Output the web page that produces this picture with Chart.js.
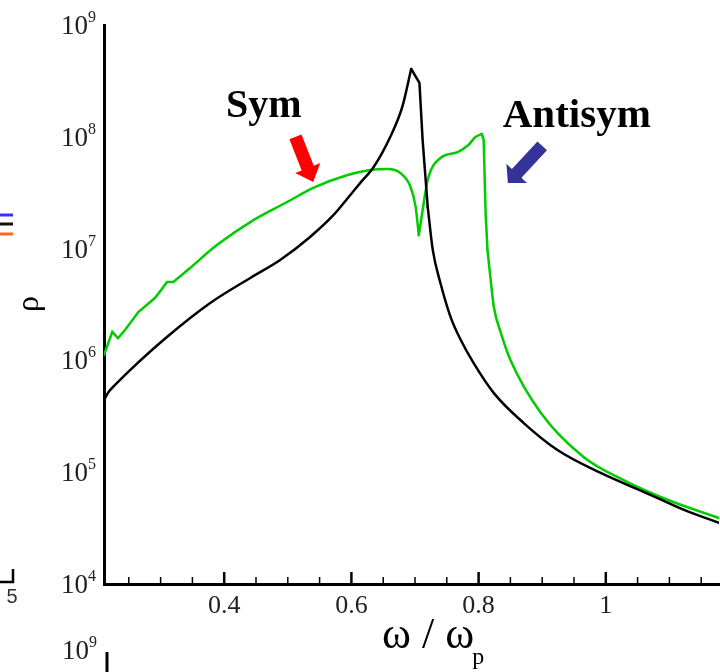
<!DOCTYPE html>
<html>
<head>
<meta charset="utf-8">
<script src="https://cdn.jsdelivr.net/npm/chart.js@4/dist/chart.umd.min.js"></script>
<style>
  html, body { margin: 0; padding: 0; background: #fff; }
</style>
</head>
<body>
<canvas id="rhoChart" width="720" height="672"></canvas>
<script>
// black curve
const omegaBlack = [0.211, 0.218, 0.228, 0.252, 0.31, 0.378, 0.441, 0.488, 0.535, 0.572,
  0.598, 0.614, 0.635, 0.661, 0.68, 0.694, 0.707, 0.712, 0.72, 0.728,
  0.74, 0.756, 0.772, 0.792, 0.824, 0.871, 0.924, 0.992, 1.071, 1.123, 1.178];
const rhoBlack = [4.4e5, 5.2e5, 6.0e5, 8.2e5, 1.62e6, 3.26e6, 5.46e6, 7.9e6, 1.27e7, 2.0e7,
  3.0e7, 3.87e7, 5.37e7, 9.96e7, 1.85e8, 4.04e8, 3.03e8, 9.35e7, 2.36e7, 9.7e6,
  4.92e6, 2.44e6, 1.52e6, 9.5e5, 5.1e5, 2.75e5, 1.58e5, 9.85e4, 6.25e4, 4.6e4, 3.52e4];

// green curve
const omegaGreen = [0.211, 0.224, 0.233, 0.244, 0.265, 0.291, 0.302, 0.31, 0.32, 0.345,
  0.389, 0.446, 0.499, 0.54, 0.594, 0.63, 0.657, 0.677, 0.693, 0.701,
  0.706, 0.712, 0.72, 0.74, 0.767, 0.784, 0.795, 0.805, 0.808, 0.811,
  0.814, 0.819, 0.824, 0.835, 0.85, 0.898, 0.965, 1.028, 1.098, 1.178];
const rhoGreen = [1.12e6, 1.80e6, 1.58e6, 1.87e6, 2.71e6, 3.61e6, 4.35e6, 5.03e6, 5.03e6, 6.6e6,
  1.08e7, 1.80e7, 2.61e7, 3.49e7, 4.55e7, 5.05e7, 5.15e7, 4.74e7, 3.56e7, 2.36e7,
  1.32e7, 2.21e7, 4.11e7, 6.46e7, 7.31e7, 8.45e7, 9.96e7, 1.06e8, 9.35e7, 2.08e7,
  9.7e6, 5.24e6, 3.0e6, 1.76e6, 1.01e6, 3.39e5, 1.37e5, 8.5e4, 5.64e4, 3.89e4];

// axes
const xMajorTicks = [0.4, 0.6, 0.8, 1];
const xTickLabels = ["0.4", "0.6", "0.8", "1"];
const xMinorTicks = [0.25, 0.3, 0.35, 0.45, 0.5, 0.55, 0.65, 0.7, 0.75, 0.85, 0.9, 0.95, 1.05, 1.1, 1.15];
const yTickExponents = [4, 5, 6, 7, 8, 9];

// which stretches (by point index) are smooth and which keep their sharp corners
const blackPieces = [[0, 15, true], [15, 18, false], [18, 30, true]];
const greenPieces = [[0, 9, false], [9, 20, true], [20, 27, true], [27, 30, false], [30, 39, true]];

const SERIF = "'Liberation Serif', 'Times New Roman', serif";

function toPoints(xs, ys) {
  return xs.map((x, i) => ({ x: x, y: ys[i] }));
}

function pieceDatasets(name, xs, ys, pieces, color) {
  return pieces.map(([a, b, smooth]) => ({
    label: name,
    data: toPoints(xs.slice(a, b + 1), ys.slice(a, b + 1)),
    borderColor: color,
    borderWidth: 2.5,
    borderCapStyle: "round",
    pointRadius: 0,
    tension: 0,
    cubicInterpolationMode: smooth ? "monotone" : "default"
  }));
}

function drawArrow(ctx, x0, y0, x1, y1, shaftW, headW, headL, color) {
  const dx = x1 - x0, dy = y1 - y0;
  const len = Math.hypot(dx, dy);
  const ux = dx / len, uy = dy / len;
  const nx = -uy, ny = ux;
  const bx = x1 - ux * headL, by = y1 - uy * headL;
  ctx.save();
  ctx.fillStyle = color;
  ctx.beginPath();
  ctx.moveTo(x0 + nx * shaftW / 2, y0 + ny * shaftW / 2);
  ctx.lineTo(bx + nx * shaftW / 2, by + ny * shaftW / 2);
  ctx.lineTo(bx + nx * headW / 2, by + ny * headW / 2);
  ctx.lineTo(x1, y1);
  ctx.lineTo(bx - nx * headW / 2, by - ny * headW / 2);
  ctx.lineTo(bx - nx * shaftW / 2, by - ny * shaftW / 2);
  ctx.lineTo(x0 - nx * shaftW / 2, y0 - ny * shaftW / 2);
  ctx.closePath();
  ctx.fill();
  ctx.restore();
}

const decorations = {
  id: "decorations",
  afterDraw(chart) {
    const ctx = chart.ctx;
    const xs = chart.scales.x, ys = chart.scales.y;
    const area = chart.chartArea;
    const px = v => xs.getPixelForValue(v);
    const py = v => ys.getPixelForValue(v);

    ctx.save();
    // inward ticks on the omega axis
    ctx.strokeStyle = "#000";
    ctx.lineWidth = 1.5;
    xMinorTicks.forEach(v => {
      ctx.beginPath();
      ctx.moveTo(px(v), area.bottom);
      ctx.lineTo(px(v), area.bottom - 7);
      ctx.stroke();
    });
    ctx.lineWidth = 2.5;
    xMajorTicks.forEach(v => {
      ctx.beginPath();
      ctx.moveTo(px(v), area.bottom);
      ctx.lineTo(px(v), area.bottom - 12);
      ctx.stroke();
    });

    // tick labels
    ctx.fillStyle = "#222";
    ctx.font = "26px " + SERIF;
    ctx.textAlign = "center";
    ctx.textBaseline = "alphabetic";
    xMajorTicks.forEach((v, i) => ctx.fillText(xTickLabels[i], px(v), area.bottom + 29));

    yTickExponents.forEach(e => {
      const y = py(Math.pow(10, e));
      ctx.font = "27px " + SERIF;
      ctx.textAlign = "right";
      ctx.fillText("10", 88, y + 9);
      ctx.font = "16px " + SERIF;
      ctx.textAlign = "left";
      ctx.fillText(String(e), 88, y - 3);
    });

    // axis titles
    ctx.fillStyle = "#000";
    ctx.font = "44px " + SERIF;
    ctx.textAlign = "left";
    ctx.fillText("\u03c9 / \u03c9", 382, 648);
    const w = ctx.measureText("\u03c9 / \u03c9").width;
    ctx.font = "24px " + SERIF;
    ctx.fillText("p", 380 + w, 664);

    ctx.save();
    ctx.font = "32px " + SERIF;
    ctx.translate(38, 304);
    ctx.rotate(-Math.PI / 2);
    ctx.textAlign = "center";
    ctx.fillText("\u03c1", 0, 0);
    ctx.restore();

    // annotations
    ctx.font = "bold 40px " + SERIF;
    ctx.textAlign = "left";
    ctx.fillText("Sym", px(0.403), py(1.5e8));
    ctx.font = "bold 41px " + SERIF;
    ctx.fillText("Antisym", px(0.838), py(1.22e8));

    drawArrow(ctx, px(0.512), py(1.0e8), px(0.54), py(3.94e7), 13, 27, 15, "#ff0000");
    drawArrow(ctx, px(0.9), py(8.3e7), px(0.846), py(3.87e7), 13, 28, 13, "#333399");

    // edges of the neighbouring panels
    ctx.lineWidth = 3;
    ctx.strokeStyle = "#3333ff";
    ctx.beginPath(); ctx.moveTo(0, 215); ctx.lineTo(13, 215); ctx.stroke();
    ctx.strokeStyle = "#111";
    ctx.beginPath(); ctx.moveTo(0, 224); ctx.lineTo(13, 224); ctx.stroke();
    ctx.strokeStyle = "#ff6622";
    ctx.beginPath(); ctx.moveTo(0, 234); ctx.lineTo(13, 234); ctx.stroke();

    ctx.lineWidth = 2.5;
    ctx.strokeStyle = "#000";
    ctx.beginPath(); ctx.moveTo(13, 569); ctx.lineTo(13, 582); ctx.lineTo(0, 582); ctx.stroke();
    ctx.fillStyle = "#333";
    ctx.font = "20px 'Liberation Sans', Arial, sans-serif";
    ctx.textAlign = "center";
    ctx.fillText("5", 12, 603);

    ctx.fillStyle = "#222";
    ctx.font = "27px " + SERIF;
    ctx.textAlign = "right";
    ctx.fillText("10", 89, 659);
    ctx.font = "16px " + SERIF;
    ctx.textAlign = "left";
    ctx.fillText("9", 89, 647);
    ctx.lineWidth = 3;
    ctx.strokeStyle = "#000";
    ctx.beginPath(); ctx.moveTo(107, 652); ctx.lineTo(107, 672); ctx.stroke();
    ctx.restore();
  }
};

new Chart(document.getElementById("rhoChart"), {
  type: "line",
  data: {
    datasets: [
      ...pieceDatasets("black", omegaBlack, rhoBlack, blackPieces, "#000000"),
      ...pieceDatasets("green", omegaGreen, rhoGreen, greenPieces, "#00cc00")
    ]
  },
  options: {
    responsive: false,
    animation: false,
    layout: { padding: { top: 25, right: 1, left: 0, bottom: 0 } },
    plugins: {
      legend: { display: false },
      tooltip: { enabled: false }
    },
    scales: {
      x: {
        type: "linear",
        min: 0.211,
        max: 1.178,
        grid: { display: false },
        border: { display: true, color: "#000", width: 3 },
        ticks: { display: false },
        afterFit: scale => { scale.height = 88; }
      },
      y: {
        type: "logarithmic",
        min: 1e4,
        max: 1e9,
        grid: { display: false },
        border: { display: true, color: "#000", width: 3 },
        ticks: { display: false },
        afterFit: scale => { scale.width = 104; }
      }
    }
  },
  plugins: [decorations]
});
</script>
</body>
</html>
